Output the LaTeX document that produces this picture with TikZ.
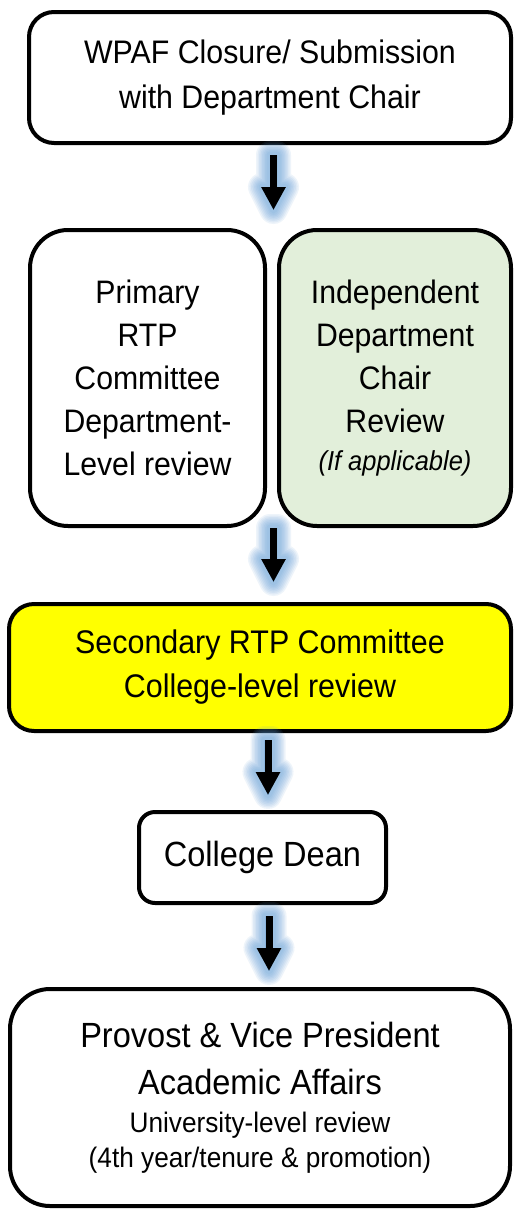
\documentclass[tikz,border=0pt]{standalone}
\usepackage{fontspec}
\setmainfont[FakeStretch=0.93]{Liberation Sans}
\usetikzlibrary{arrows.meta,calc}
\definecolor{glowc}{RGB}{91,155,213}
\definecolor{boxgreen}{RGB}{226,239,218}
\definecolor{boxyellow}{RGB}{255,255,0}
\tikzset{
  box/.style={draw=black, line width=4pt, fill=white, align=center, inner sep=0pt, outer sep=0pt},
  flowline/.style={line width=7pt, -{Triangle[width=23pt,length=23pt]}},
}
\newcommand\glowarrow[2]{%
  \path #1 coordinate (ga-s);
  \path #2 coordinate (ga-e);
  \foreach \w in {28,25,22,19,16,13,10,7}{%
    \filldraw[glowc, line width=\w pt, opacity=0.1, line join=round]
      ($(ga-s)+(-3.5,0)$) -- ($(ga-s)+(3.5,0)$) -- ($(ga-e)+(3.5,23)$) -- ($(ga-e)+(11.5,23)$)
      -- (ga-e) -- ($(ga-e)+(-11.5,23)$) -- ($(ga-e)+(-3.5,23)$) -- cycle;
  }%
  \draw[flowline] (ga-s) -- (ga-e);
}
\newcommand\smalltxt{\fontsize{28.2}{35}\selectfont}
\newcommand\italtxt{\fontsize{27.4}{30}\selectfont\itshape}
\begin{document}
\begin{tikzpicture}[x=1pt,y=1pt]
\useasboundingbox (0,0) rectangle (514,-1210);
\fill[white] (0,0) rectangle (514,-1210);

% boxes
\node[box, font=\fontsize{32.6}{45}\selectfont, minimum width=482, minimum height=131, rounded corners=25] (b1) at (270,-77.5)
  {WPAF Closure/ Submission\\with Department Chair};
\node[box, font=\fontsize{32.5}{43}\selectfont, minimum width=235, minimum height=296, rounded corners=38] (b2l) at (147.5,-378)
  {Primary\\RTP\\Committee\\Department-\\Level review};
\node[box, font=\fontsize{32.5}{43}\selectfont, fill=boxgreen, minimum width=232, minimum height=296, rounded corners=38] (b2r) at (395,-378)
  {Independent\\Department\\Chair\\Review\\[-5pt]\italtxt (If applicable)};
\node[box, font=\fontsize{32.7}{44}\selectfont, fill=boxyellow, minimum width=502, minimum height=127, rounded corners=25] (b3) at (260,-667.5)
  {Secondary RTP Committee\\College-level review};
\node[box, font=\fontsize{35}{40}\selectfont, minimum width=247, minimum height=91, rounded corners=16] (b4) at (262.5,-857.5)
  {College Dean};
\node[box, font=\fontsize{35}{47}\selectfont, minimum width=500, minimum height=217, rounded corners=40] (b5) at (260,-1097.5)
  {Provost \& Vice President\\Academic Affairs\\[-9pt]\smalltxt University-level review\\[-12pt]\smalltxt (4th year/tenure \& promotion)};

% arrows
\coordinate (x1) at (273.5,0);
\coordinate (x3) at (268,0);
\coordinate (x4) at (269,0);
\glowarrow{($(b1.south -| x1)+(0,-12)$)}{($(b2l.north -| x1)+(0,20)$)}
\glowarrow{($(b2l.south -| x1)+(0,-2)$)}{($(b3.north -| x1)+(0,22)$)}
\glowarrow{($(b3.south -| x3)+(0,-9)$)}{($(b4.north -| x3)+(0,17)$)}
\glowarrow{($(b4.south -| x4)+(0,-13)$)}{($(b5.north -| x4)+(0,18)$)}
\end{tikzpicture}
\end{document}
